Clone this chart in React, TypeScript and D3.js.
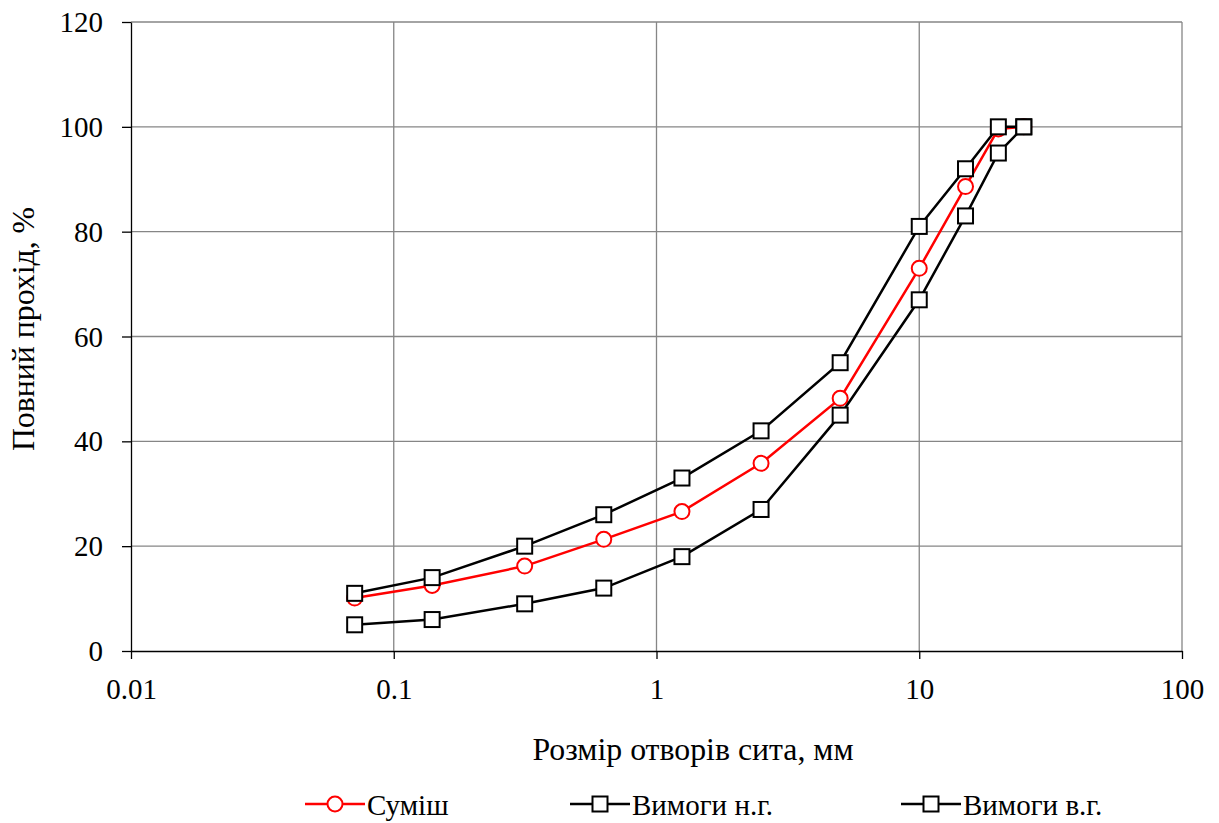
import React, { useEffect, useRef } from 'react';
import * as d3 from 'd3';

// sieve sizes, mm
const sieves = [0.071, 0.14, 0.315, 0.63, 1.25, 2.5, 5, 10, 15, 20, 25];
const mixValues = [10.1, 12.5, 16.2, 21.3, 26.6, 35.8, 48.2, 73.0, 88.6, 99.6, 100];
const lowerValues = [5, 6, 9, 12, 18, 27, 45, 67, 83, 95, 100];
const upperValues = [11, 14, 20, 26, 33, 42, 55, 81, 92, 100, 100];
const xTicks = [0.01, 0.1, 1, 10, 100];
const yTicks = [0, 20, 40, 60, 80, 100, 120];
const seriesNames = ['Суміш', 'Вимоги н.г.', 'Вимоги в.г.'];

const W = 1219;
const H = 823;
const FONT = 'Liberation Serif';
const FS = 29;     // ticks and legend
const FS_T = 31.8; // axis titles

const App = () => {
  const svgRef = useRef<SVGSVGElement>(null);

  useEffect(() => {
    const svg = d3.select(svgRef.current);
    svg.selectAll('*').remove();

    const x = d3.scaleLog().domain([0.01, 100]).range([131, 1182]);
    const y = d3.scaleLinear().domain([0, 120]).range([651, 22]);

    // grid
    const grid = svg.append('g');
    grid.selectAll('line.h')
      .data(yTicks.filter(d => d > 0))
      .enter().append('line')
      .attr('x1', x(0.01)).attr('x2', x(100))
      .attr('y1', d => y(d)).attr('y2', d => y(d))
      .attr('stroke', '#868686').attr('stroke-width', 1.3);
    grid.selectAll('line.v')
      .data(xTicks.filter(d => d > 0.01))
      .enter().append('line')
      .attr('x1', d => x(d)).attr('x2', d => x(d))
      .attr('y1', y(0)).attr('y2', y(120))
      .attr('stroke', '#868686').attr('stroke-width', 1.3);

    // axes
    const xAxis = d3.axisBottom(x).tickValues(xTicks).tickFormat(d => String(d)).tickSize(8).tickSizeOuter(0);
    const yAxis = d3.axisLeft(y).tickValues(yTicks).tickSize(9).tickSizeOuter(0);

    const gx = svg.append('g').attr('transform', `translate(0,${y(0)})`).call(xAxis);
    const gy = svg.append('g').attr('transform', `translate(${x(0.01)},0)`).call(yAxis);
    [gx, gy].forEach(g => {
      g.attr('font-family', FONT).attr('font-size', FS);
      g.selectAll('path').attr('stroke', '#000').attr('stroke-width', 1.3);
      g.selectAll('line').attr('stroke', '#000').attr('stroke-width', 1.3);
      g.selectAll('text').attr('fill', '#000');
    });
    gx.selectAll('text').attr('y', 48).attr('dy', 0);
    gy.selectAll('text').attr('x', -28).attr('dy', '0.33em');

    // axis titles
    svg.append('text')
      .attr('x', 693).attr('y', 760)
      .attr('text-anchor', 'middle')
      .attr('font-family', FONT).attr('font-size', FS_T)
      .text('Розмір отворів сита, мм');
    svg.append('text')
      .attr('transform', 'translate(34,329) rotate(-90)')
      .attr('text-anchor', 'middle')
      .attr('font-family', FONT).attr('font-size', FS_T)
      .text('Повний прохід, %');

    const line = d3.line<number>()
      .x((d, i) => x(sieves[i]))
      .y(d => y(d));

    const series = [
      { values: mixValues, color: '#ff0000', marker: 'circle' },
      { values: lowerValues, color: '#000000', marker: 'square' },
      { values: upperValues, color: '#000000', marker: 'square' },
    ];

    series.forEach(s => {
      const g = svg.append('g');
      g.append('path')
        .datum(s.values)
        .attr('d', line)
        .attr('fill', 'none')
        .attr('stroke', s.color)
        .attr('stroke-width', 2.5);
      if (s.marker === 'circle') {
        g.selectAll('circle')
          .data(s.values)
          .enter().append('circle')
          .attr('cx', (d, i) => x(sieves[i]))
          .attr('cy', d => y(d))
          .attr('r', 7.5)
          .attr('fill', '#fff')
          .attr('stroke', s.color)
          .attr('stroke-width', 2);
      } else {
        g.selectAll('rect')
          .data(s.values)
          .enter().append('rect')
          .attr('x', (d, i) => x(sieves[i]) - 7.5)
          .attr('y', d => y(d) - 7.5)
          .attr('width', 15)
          .attr('height', 15)
          .attr('fill', '#fff')
          .attr('stroke', s.color)
          .attr('stroke-width', 2);
      }
    });

    // legend
    const legendX = [305, 570, 901];
    const legendY = 804;
    series.forEach((s, i) => {
      const g = svg.append('g').attr('transform', `translate(${legendX[i]},${legendY})`);
      g.append('line').attr('x1', 0).attr('x2', 60).attr('y1', 0).attr('y2', 0)
        .attr('stroke', s.color).attr('stroke-width', 2.5);
      if (s.marker === 'circle') {
        g.append('circle').attr('cx', 30).attr('cy', 0).attr('r', 7.5)
          .attr('fill', '#fff').attr('stroke', s.color).attr('stroke-width', 2);
      } else {
        g.append('rect').attr('x', 22.5).attr('y', -7.5).attr('width', 15).attr('height', 15)
          .attr('fill', '#fff').attr('stroke', s.color).attr('stroke-width', 2);
      }
      g.append('text')
        .attr('x', 62).attr('y', 11)
        .attr('font-family', FONT).attr('font-size', FS)
        .text(seriesNames[i]);
    });
  }, []);

  return (
    <svg ref={svgRef} width={W} height={H} style={{ position: 'absolute', left: 0, top: 0, background: '#fff' }} />
  );
};

export default App;
